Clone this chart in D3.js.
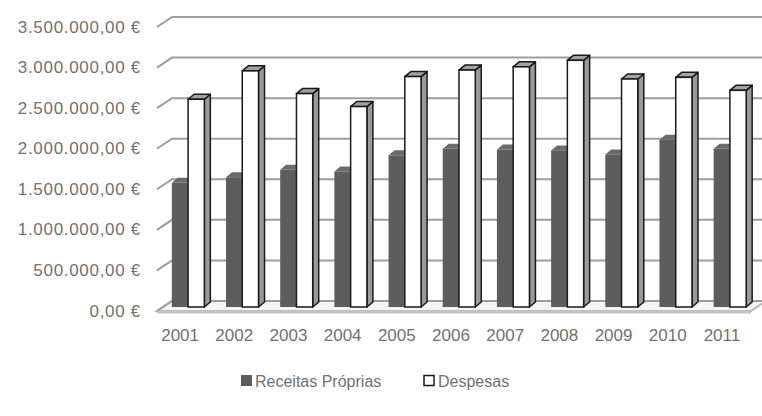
<!DOCTYPE html>
<html>
<head>
<meta charset="utf-8">
<script src="https://cdn.jsdelivr.net/npm/d3@7"></script>
<style>
  html, body { margin: 0; padding: 0; background: #fff; }
  svg { display: block; }
  text { font-family: "Liberation Sans", Arial, sans-serif; fill: #717171; }
</style>
</head>
<body>
<svg id="chart" width="762" height="416"></svg>
<script>
// Annual own revenue vs. expenses (EUR)
const years = ["2001", "2002", "2003", "2004", "2005", "2006", "2007", "2008", "2009", "2010", "2011"];
const receitasProprias = [1530000, 1600000, 1690000, 1670000, 1870000, 1950000, 1940000, 1930000, 1880000, 2060000, 1950000];
const despesas = [2560000, 2910000, 2630000, 2470000, 2840000, 2920000, 2960000, 3040000, 2810000, 2830000, 2670000];
const yTicks = [0, 500000, 1000000, 1500000, 2000000, 2500000, 3000000, 3500000];
const seriesNames = ["Receitas Próprias", "Despesas"];

const svg = d3.select("#chart");

const ptLocale = d3.formatLocale({ decimal: ",", thousands: ".", grouping: [3], currency: ["", " €"] });
const fmt = v => ptLocale.format(",.2f")(v) + " €";

// front plane of the 3D box
const x = d3.scaleBand().domain(years).range([155, 751]).paddingInner(0.4).paddingOuter(0.2);
const y = d3.scaleLinear().domain([0, 3500000]).range([311, 27]);

// oblique offsets: wall depth, bar plane, bar thickness
const wall = { dx: 15, dy: -10 };
const barPlane = { dx: 6, dy: -4 };
const barDepth = { dx: 6, dy: -5 };
const xLeft = 157, xRight = 762;

// floor slab
const fy = y(0);
svg.append("polygon")
  .attr("points", [[xLeft, fy], [751, fy], [751 + wall.dx, fy + wall.dy], [xLeft + wall.dx, fy + wall.dy]].join(" "))
  .attr("fill", "#f4f4f4").attr("stroke", "#b8b8b8").attr("stroke-width", 2);
svg.append("line")
  .attr("x1", xLeft).attr("x2", 751).attr("y1", fy + 1).attr("y2", fy + 1)
  .attr("stroke", "#c4c4c4").attr("stroke-width", 3);

// gridlines on side and back walls
svg.append("g").selectAll("path").data(yTicks).join("path")
  .attr("d", v => `M${xLeft},${y(v)}L${xLeft + wall.dx},${y(v) + wall.dy}L${xRight},${y(v) + wall.dy}`)
  .attr("fill", "none").attr("stroke", "#9d9d9d").attr("stroke-width", 2);

// value axis labels
svg.append("g").selectAll("text").data(yTicks).join("text")
  .attr("x", 141).attr("y", v => y(v))
  .attr("text-anchor", "end").attr("dominant-baseline", "central")
  .attr("font-size", 17).attr("letter-spacing", 0.7)
  .text(fmt);

// category labels
svg.append("g").selectAll("text").data(years).join("text")
  .attr("x", d => x(d) + x.bandwidth() / 2 - 2).attr("y", 335)
  .attr("text-anchor", "middle").attr("dominant-baseline", "central")
  .attr("font-size", 17)
  .text(d => d);

// 3D column helper
const half = x.bandwidth() / 2;
function column(g, x0, v, style) {
  const y0 = y(0) + barPlane.dy, yt = y(v) + barPlane.dy;
  const x1 = x0 + half;
  const { dx, dy } = barDepth;
  g.append("polygon") // right side
    .attr("points", [[x1, yt], [x1 + dx, yt + dy], [x1 + dx, y0 + dy], [x1, y0]].join(" "))
    .attr("fill", style.side).attr("stroke", style.stroke).attr("stroke-width", style.sw).attr("stroke-linejoin", "round");
  g.append("polygon") // top
    .attr("points", [[x0, yt], [x0 + dx, yt + dy], [x1 + dx, yt + dy], [x1, yt]].join(" "))
    .attr("fill", style.top).attr("stroke", style.stroke).attr("stroke-width", style.sw).attr("stroke-linejoin", "round");
  g.append("rect") // front
    .attr("x", x0).attr("y", yt).attr("width", half).attr("height", y0 - yt)
    .attr("fill", style.front).attr("stroke", style.stroke).attr("stroke-width", style.sw);
}

const darkStyle = { front: "#5d5d5d", top: "#6b6b6b", side: "#4a4a4a", stroke: "none", sw: 0 };
const whiteStyle = { front: "#ffffff", top: "#a3a3a3", side: "#9a9a9a", stroke: "#1a1a1a", sw: 1.5 };

const bars = svg.append("g");
years.forEach((yr, i) => {
  const g = bars.append("g");
  const bx = x(yr) + barPlane.dx;
  column(g, bx, receitasProprias[i], darkStyle);
  column(g, bx + half, despesas[i], whiteStyle);
});

// legend
const legend = svg.append("g");
legend.append("rect").attr("x", 241).attr("y", 375).attr("width", 11).attr("height", 11).attr("fill", "#5d5d5d");
legend.append("text").attr("x", 255).attr("y", 381).attr("dominant-baseline", "central").attr("font-size", 16).text(seriesNames[0]);
legend.append("rect").attr("x", 424).attr("y", 375.5).attr("width", 10).attr("height", 10)
  .attr("fill", "#fff").attr("stroke", "#1a1a1a").attr("stroke-width", 1.5);
legend.append("text").attr("x", 438).attr("y", 381).attr("dominant-baseline", "central").attr("font-size", 16).text(seriesNames[1]);
</script>
</body>
</html>
